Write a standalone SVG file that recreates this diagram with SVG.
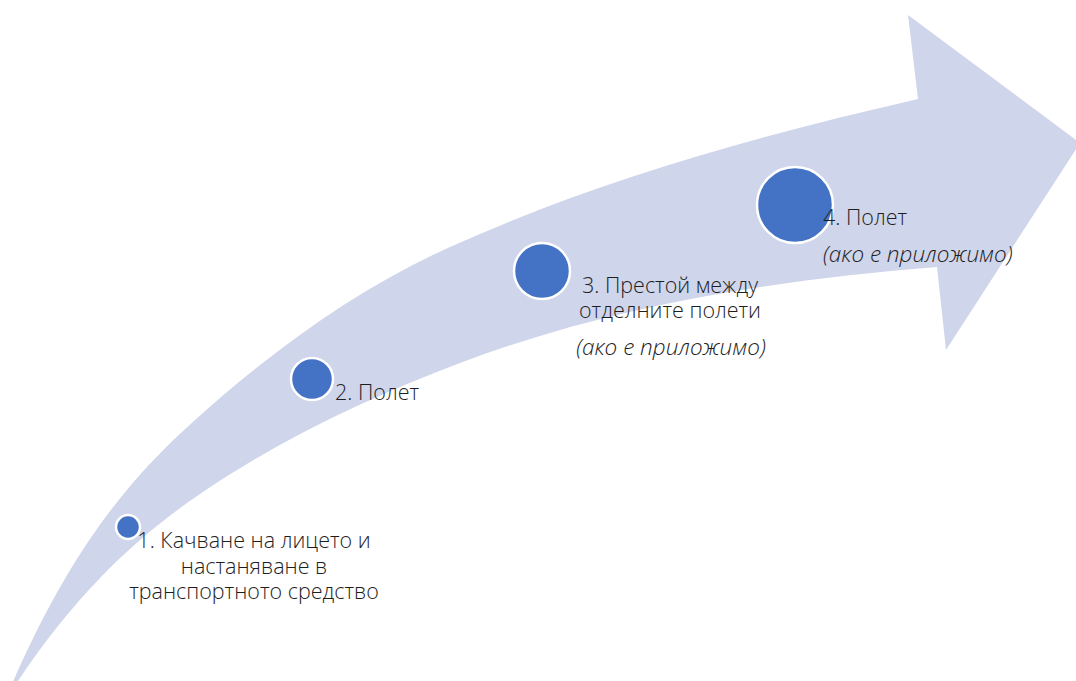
<svg xmlns="http://www.w3.org/2000/svg" width="1076" height="681" viewBox="0 0 1076 681">
<style>
.arrow{fill:#CFD5EA;stroke:none}
.dot{fill:#4472C4;stroke:#FFFFFF;stroke-width:2.5}
.lbl{font-family:"Open Sans","Noto Sans","Liberation Sans",sans-serif;font-size:21.5px;fill:#1E1E1E;font-weight:300}
.it{font-style:italic;font-size:22.5px}
</style>
<rect width="1076" height="681" fill="#FFFFFF"/>
<g id="connectors">
<path class="arrow" d="M12,684 C74,542 134,475 195,420 C280,343.5 365,285 450,247 C606,177 762,135 918,99 L908,15 L1080,143 L946,350 L937,267 C778,280 619,303 460,363 C373,396 287,435 200,494 C139,535.5 78,590.5 16,684 Z"/>
</g>
<g id="node1">
<circle class="dot" cx="128" cy="527" r="12"/>
<text class="lbl" text-anchor="middle"><tspan x="254" y="548">1. Качване на лицето и</tspan><tspan x="254" y="574">настаняване в</tspan><tspan x="254" y="599">транспортното средство</tspan></text>
</g>
<g id="node2">
<circle class="dot" cx="312" cy="379" r="21"/>
<text class="lbl" x="335" y="400">2. Полет</text>
</g>
<g id="node3">
<circle class="dot" cx="542" cy="271" r="28"/>
<text class="lbl" text-anchor="middle"><tspan x="670" y="293">3. Престой между</tspan><tspan x="670" y="318">отделните полети</tspan><tspan class="it" x="671" y="355">(ако е приложимо)</tspan></text>
</g>
<g id="node4">
<circle class="dot" cx="795" cy="205" r="38"/>
<text class="lbl"><tspan x="823" y="225">4. Полет</tspan><tspan class="it" x="823" y="262">(ако е приложимо)</tspan></text>
</g>
</svg>
